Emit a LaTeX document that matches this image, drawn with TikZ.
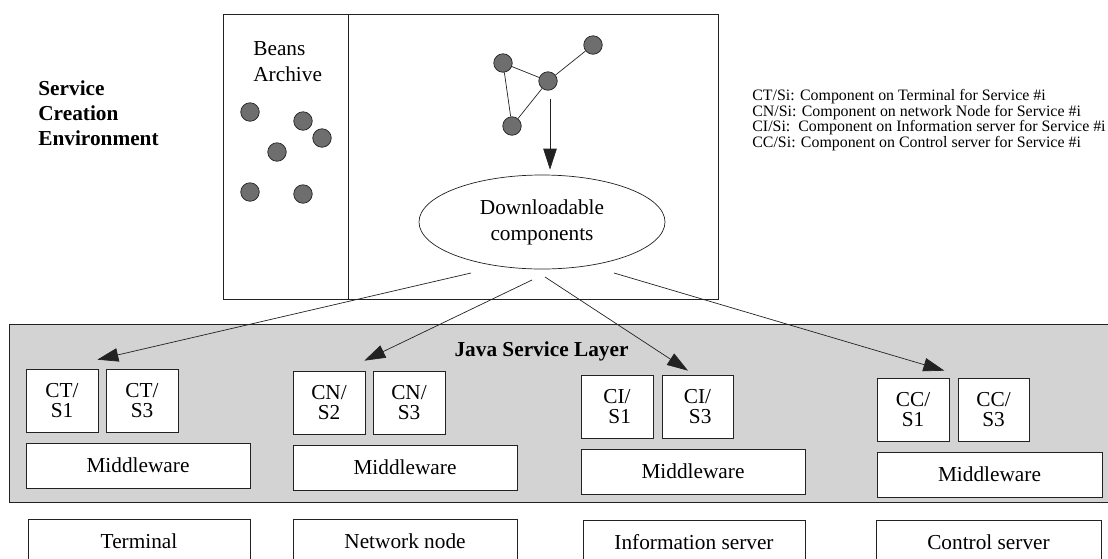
\documentclass[tikz,border=0pt]{standalone}
\usepackage{fontspec}
\setmainfont{Liberation Serif}
\usepackage{xcolor}
\definecolor{layergray}{HTML}{D3D3D3}
\definecolor{beangray}{HTML}{6E6E6E}
\definecolor{linedark}{HTML}{222222}
\usetikzlibrary{shapes.geometric,arrows.meta,positioning,calc}
\tikzset{
  txt/.style={font=\fontsize{21.3}{26}\selectfont},
  compbox/.style={rectangle, draw=linedark, fill=white, minimum width=72pt, minimum height=63pt, inner sep=0pt, align=center, font=\fontsize{21.3}{20.7}\selectfont},
  platbox/.style={rectangle, draw=linedark, fill=white, minimum width=224pt, minimum height=45pt, inner sep=0pt, font=\fontsize{21.3}{24}\selectfont},
  bean/.style={circle, draw=linedark, fill=beangray, minimum size=18.5pt, inner sep=0pt},
  dlarrow/.style={-{Triangle[length=21pt,width=13.5pt]}, linedark, line width=0.7pt},
}

\begin{document}
\begin{tikzpicture}[x=1pt, y=-1pt, line width=0.7pt]
\useasboundingbox (0,0) rectangle (1108,558);
\clip (0,0) rectangle (1108,558);
% creation environment
\node[font=\bfseries\fontsize{21.3}{25}\selectfont, align=left, anchor=west, inner sep=0pt] (sce) at (38,113) {Service\\Creation\\Environment};
\node[draw=linedark, minimum width=495pt, minimum height=285pt, inner sep=0pt] (env) at (470.5,156.5) {};
\coordinate (divtop) at (348,14);
\draw[linedark] (divtop) -- (divtop |- env.south);
\node[txt, align=left, anchor=west, inner sep=0pt] (beans) at (253,62) {Beans\\Archive};
\foreach \x/\y [count=\i] in {250/112, 303/121, 322/138, 277/152, 250/192, 303/194}
  \node[bean] (b\i) at (\x,\y) {};
% assembled service
\node[bean] (n1) at (503,63) {};
\node[bean] (n2) at (593,45) {};
\node[bean] (n3) at (548,81) {};
\node[bean] (n4) at (512,126) {};
\draw[linedark] (n1) -- (n3) -- (n2);
\draw[linedark] (n1) -- (n4) -- (n3);
\node[ellipse, draw=linedark, minimum width=246pt, minimum height=94pt, inner sep=0pt, align=center, font=\fontsize{21.3}{26}\selectfont] (dl) at (542,222) {Downloadable\\components};
\draw[dlarrow] ([shift={(2,8)}]n3.south) -- ([shift={(8,-5)}]dl.north);
% java service layer
\node[draw=linedark, fill=layergray, minimum width=1120pt, minimum height=178pt, inner sep=0pt, anchor=north west] (jsl) at (9,324) {};
\node[font=\bfseries\fontsize{21.3}{24}\selectfont] (jtitle) at (541.5,351) {Java Service Layer};
\node[compbox] (cts1) at (62,400.5) {CT/\\S1};
\node[compbox] (cts3) at (142,400.5) {CT/\\S3};
\node[platbox] (mw1) at (138,465.5) {Middleware};
\node[compbox] (cns2) at (329,402.5) {CN/\\S2};
\node[compbox] (cns3) at (409,402.5) {CN/\\S3};
\node[platbox] (mw2) at (405,467.5) {Middleware};
\node[compbox] (cis1) at (617,406.5) {CI/\\\ S1};
\node[compbox, minimum width=71pt] (cis3) at (697.5,406.5) {CI/\\\ S3};
\node[platbox] (mw3) at (693,471.5) {Middleware};
\node[compbox] (ccs1) at (913,409.5) {CC/\\S1};
\node[compbox, minimum width=71pt] (ccs3) at (993.5,409.5) {CC/\\S3};
\node[platbox, minimum width=225pt] (mw4) at (989.5,474.5) {Middleware};
% hosts
\node[platbox, minimum width=222pt] (term) at (139,541.5) {Terminal};
\node[platbox] (netnode) at (405,541.5) {Network node};
\node[platbox, minimum width=222pt] (infosrv) at (694,542.5) {Information server};
\node[platbox, minimum width=225pt] (ctrlsrv) at (988.5,542.5) {Control server};
% legend
\node[align=left, anchor=north west, inner sep=0pt, font=\fontsize{15.9}{14.3}\selectfont] (legend) at (752,89)
  {CT/Si: Component on Terminal for Service \#i\\
   CN/Si: Component on network Node for Service \#i\\
   CI/Si:\ \ Component on Information server for Service \#i\\
   CC/Si: Component on Control server for Service \#i};
% downloads
\coordinate (s1) at (471,273);
\coordinate (s2) at (532,280);
\coordinate (s3) at (545,277);
\coordinate (s4) at (614,273);
\draw[dlarrow] (s1) -- ([shift={(-1,-9)}]cts1.north east);
\draw[dlarrow] (s2) -- ([shift={(-1,-10)}]cns2.north east);
\draw[dlarrow] (s3) -- ([shift={(-9.5,-4)}]cis3.north);
\draw[dlarrow] (s4) -- ([shift={(-5,-7)}]ccs1.north east);
\end{tikzpicture}
\end{document}
